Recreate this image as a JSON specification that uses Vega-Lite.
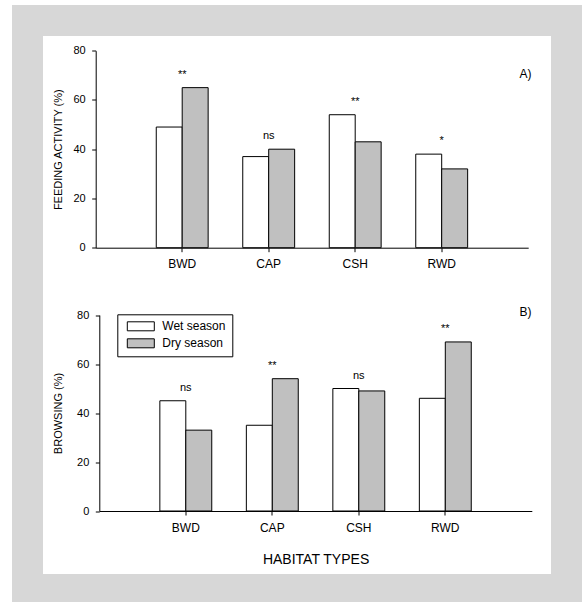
{
  "$schema": "https://vega.github.io/schema/vega-lite/v6.json",
  "width": 539,
  "height": 569,
  "autosize": {"type": "none"},
  "padding": {"left": 27.5, "top": 20.5, "right": 15.5, "bottom": 12.5},
  "background": "white",
  "datasets": {
    "feeding": [
      {"habitat": "BWD", "season": "Wet season", "value": 49, "sig": "**"},
      {"habitat": "BWD", "season": "Dry season", "value": 65, "sig": "**"},
      {"habitat": "CAP", "season": "Wet season", "value": 37, "sig": "ns"},
      {"habitat": "CAP", "season": "Dry season", "value": 40, "sig": "ns"},
      {"habitat": "CSH", "season": "Wet season", "value": 54, "sig": "**"},
      {"habitat": "CSH", "season": "Dry season", "value": 43, "sig": "**"},
      {"habitat": "RWD", "season": "Wet season", "value": 38, "sig": "*"},
      {"habitat": "RWD", "season": "Dry season", "value": 32, "sig": "*"}
    ],
    "browsing": [
      {"habitat": "BWD", "season": "Wet season", "value": 45, "sig": "ns"},
      {"habitat": "BWD", "season": "Dry season", "value": 33, "sig": "ns"},
      {"habitat": "CAP", "season": "Wet season", "value": 35, "sig": "**"},
      {"habitat": "CAP", "season": "Dry season", "value": 54, "sig": "**"},
      {"habitat": "CSH", "season": "Wet season", "value": 50, "sig": "ns"},
      {"habitat": "CSH", "season": "Dry season", "value": 49, "sig": "ns"},
      {"habitat": "RWD", "season": "Wet season", "value": 46, "sig": "**"},
      {"habitat": "RWD", "season": "Dry season", "value": 69, "sig": "**"}
    ]
  },
  "title": {
    "text": "A)",
    "subtitle": "B)",
    "anchor": "end",
    "frame": "group",
    "offset": 0,
    "dx": -35,
    "dy": 298,
    "font": "Liberation Sans",
    "fontSize": 12,
    "fontWeight": "normal",
    "color": "black",
    "subtitleFont": "Liberation Sans",
    "subtitleFontSize": 12,
    "subtitleColor": "black",
    "subtitlePadding": 226
  },
  "config": {
    "view": {"fill": "white", "stroke": "#d7d7d7", "strokeWidth": 31},
    "font": "Liberation Sans",
    "axis": {
      "domainColor": "black",
      "tickColor": "black",
      "labelColor": "black",
      "titleColor": "black",
      "tickSize": 4,
      "grid": false,
      "labelFont": "Liberation Sans",
      "titleFont": "Liberation Sans",
      "titleFontWeight": "normal"
    },
    "axisX": {"labelFontSize": 12, "labelPadding": 7, "titleFontSize": 14, "titlePadding": 19, "labelAngle": 0},
    "axisY": {"labelFontSize": 11, "titleFontSize": 11, "labelPadding": 6.5}
  },
  "layer": [
    {
      "data": {"name": "feeding"},
      "encoding": {
        "x": {
          "field": "habitat",
          "type": "nominal",
          "scale": {"range": [68.2, 500.7], "paddingInner": 0.4, "paddingOuter": 0.7},
          "axis": {"title": null, "orient": "bottom", "offset": -341.8}
        },
        "y": {
          "field": "value",
          "type": "quantitative",
          "scale": {"domain": [0, 80], "range": [227.2, 30.2], "nice": false},
          "axis": {"title": "FEEDING ACTIVITY (%)", "orient": "left", "offset": -68.2, "values": [0, 20, 40, 60, 80], "titlePadding": 9}
        }
      },
      "layer": [
        {
          "mark": {"type": "bar", "stroke": "black", "strokeWidth": 1},
          "encoding": {
            "xOffset": {"field": "season", "type": "nominal", "sort": ["Wet season", "Dry season"], "scale": {"paddingInner": 0, "paddingOuter": 0}},
            "color": {
              "field": "season",
              "type": "nominal",
              "sort": ["Wet season", "Dry season"],
              "scale": {"domain": ["Wet season", "Dry season"], "range": ["white", "#c0c0c0"]},
              "legend": {
                "title": null,
                "orient": "none",
                "legendX": 89.8,
                "legendY": 293.8,
                "strokeColor": "black",
                "fillColor": "white",
                "padding": 6,
                "symbolType": "M-0.4,-0.9L5,-0.9L5,0.9L-0.4,0.9Z",
                "symbolSize": 100,
                "symbolStrokeColor": "black",
                "symbolStrokeWidth": 1,
                "labelFontSize": 12,
                "labelFont": "Liberation Sans",
                "labelColor": "black",
                "labelOffset": 27,
                "rowPadding": 3
              }
            }
          }
        },
        {
          "transform": [{"aggregate": [{"op": "max", "field": "value", "as": "value"}], "groupby": ["habitat", "sig"]}],
          "mark": {"type": "text", "baseline": "alphabetic", "dy": -10, "fontSize": 11, "color": "black"},
          "encoding": {"text": {"field": "sig", "type": "nominal"}}
        }
      ]
    },
    {
      "data": {"name": "browsing"},
      "encoding": {
        "x": {
          "field": "habitat",
          "type": "nominal",
          "scale": {"range": [71.8, 504.3], "paddingInner": 0.4, "paddingOuter": 0.7},
          "axis": {"title": "HABITAT TYPES", "orient": "bottom", "offset": -78.5}
        },
        "y": {
          "field": "value",
          "type": "quantitative",
          "scale": {"domain": [0, 80], "range": [490.5, 294.5], "nice": false},
          "axis": {"title": "BROWSING (%)", "orient": "left", "offset": -71.8, "values": [0, 20, 40, 60, 80], "titlePadding": 13}
        }
      },
      "layer": [
        {
          "mark": {"type": "bar", "stroke": "black", "strokeWidth": 1},
          "encoding": {
            "xOffset": {"field": "season", "type": "nominal", "sort": ["Wet season", "Dry season"], "scale": {"paddingInner": 0, "paddingOuter": 0}},
            "color": {"field": "season", "type": "nominal", "sort": ["Wet season", "Dry season"]}
          }
        },
        {
          "transform": [{"aggregate": [{"op": "max", "field": "value", "as": "value"}], "groupby": ["habitat", "sig"]}],
          "mark": {"type": "text", "baseline": "alphabetic", "dy": -10, "fontSize": 11, "color": "black"},
          "encoding": {"text": {"field": "sig", "type": "nominal"}}
        }
      ]
    }
  ],
  "resolve": {"scale": {"x": "independent", "y": "independent", "xOffset": "independent"}}
}
